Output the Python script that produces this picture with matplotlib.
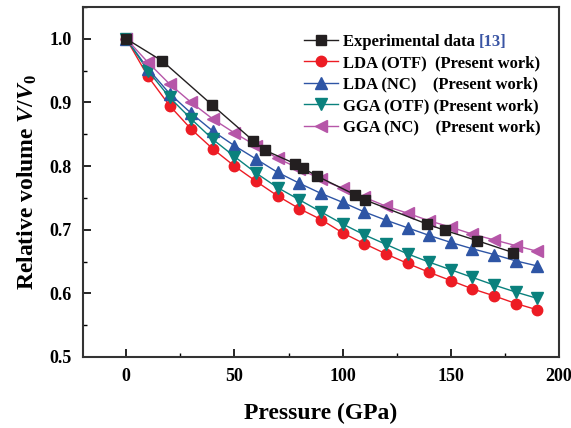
import matplotlib
matplotlib.use("Agg")
import matplotlib.pyplot as plt
from matplotlib.ticker import MultipleLocator

plt.rcParams['font.family'] = ['Liberation Serif', 'DejaVu Serif']
plt.rcParams['font.weight'] = 'bold'
plt.rcParams['mathtext.fontset'] = 'custom'
plt.rcParams['mathtext.rm'] = 'Liberation Serif:bold'
plt.rcParams['mathtext.it'] = 'Liberation Serif:bold:italic'
plt.rcParams['mathtext.bf'] = 'Liberation Serif:bold'

# Experimental data
exp_p = [0, 16.7, 39.7, 58.6, 64.0, 77.8, 81.5, 88.3, 105.7, 110.2, 138.9, 147.2, 162.0, 178.8]
exp_v = [1.0, 0.965, 0.896, 0.840, 0.825, 0.804, 0.797, 0.784, 0.755, 0.747, 0.709, 0.699, 0.683, 0.664]

# Calculated (present work)
calc_p = [0, 10, 20, 30, 40, 50, 60, 70, 80, 90, 100, 110, 120, 130, 140, 150, 160, 170, 180, 190]
lda_otf = [1.0, 0.941, 0.895, 0.858, 0.827, 0.800, 0.776, 0.753, 0.733, 0.716, 0.695, 0.678, 0.662,
           0.647, 0.633, 0.620, 0.607, 0.596, 0.584, 0.574]
lda_nc = [1.0, 0.953, 0.914, 0.883, 0.855, 0.832, 0.811, 0.790, 0.773, 0.757, 0.743, 0.728, 0.715,
          0.703, 0.691, 0.680, 0.670, 0.661, 0.651, 0.643]
gga_otf = [1.0, 0.950, 0.908, 0.874, 0.842, 0.815, 0.789, 0.766, 0.747, 0.728, 0.709, 0.692, 0.677,
           0.662, 0.649, 0.637, 0.625, 0.613, 0.602, 0.592]
gga_nc = [1.0, 0.963, 0.929, 0.900, 0.874, 0.852, 0.832, 0.812, 0.796, 0.779, 0.765, 0.751, 0.737,
          0.726, 0.714, 0.704, 0.693, 0.684, 0.675, 0.666]

labels = ["Experimental data",
          "LDA (OTF)  (Present work)",
          "LDA (NC)    (Present work)",
          "GGA (OTF) (Present work)",
          "GGA (NC)    (Present work)"]
ref_label = "[13]"

fig = plt.figure(figsize=(5.71, 4.28), dpi=100)
ax = fig.add_axes([0.1454, 0.166, 0.979 - 0.1454, 0.9836 - 0.166])

ax.plot(exp_p, exp_v, color='#231f20', lw=1.0, marker='s', ms=6.5, mfc='#231f20', mec='#231f20', label=labels[0], zorder=3)
ax.plot(calc_p, lda_otf, color='#ed1c24', lw=1.0, marker='o', ms=7.5, mfc='#ed1c24', mec='#ed1c24', label=labels[1])
ax.plot(calc_p, lda_nc, color='#2e55a5', lw=1.0, marker='^', ms=8.5, mfc='#2e55a5', mec='#2e55a5', label=labels[2])
ax.plot(calc_p, gga_otf, color='#0a817d', lw=1.0, marker='v', ms=8.5, mfc='#0a817d', mec='#0a817d', label=labels[3])
ax.plot(calc_p, gga_nc, color='#b656a8', lw=1.0, marker='<', ms=8.5, mfc='#b656a8', mec='#b656a8', label=labels[4])

ax.set_xlim(-20, 200)
ax.set_ylim(0.5, 1.05)
ax.xaxis.set_major_locator(MultipleLocator(50))
ax.xaxis.set_minor_locator(MultipleLocator(25))
ax.yaxis.set_minor_locator(MultipleLocator(0.05))
ax.set_yticks([0.5, 0.6, 0.7, 0.8, 0.9, 1.0])
ax.set_yticklabels(['0.5', '0.6', '0.7', '0.8', '0.9', '1.0'])
ax.tick_params(which='both', direction='in', top=False, right=False, labelsize=13, pad=8)
ax.tick_params(which='major', length=6, width=1.2)
ax.tick_params(which='minor', length=3, width=1.0)
for s in ax.spines.values():
    s.set_linewidth(1.5)
    s.set_color('#333333')

ax.set_xlabel('Pressure (GPa)', fontsize=17, fontweight='bold', labelpad=13)
ax.set_ylabel(r'Relative volume $V/V_0$', fontsize=17, fontweight='bold', labelpad=8)

leg = ax.legend(loc='upper right', bbox_to_anchor=(0.985, 0.957), frameon=False, fontsize=12,
                handlelength=2.0, handletextpad=0.3, labelspacing=0.33, borderaxespad=0.3)

fig.canvas.draw()
bb = leg.get_texts()[0].get_window_extent(renderer=fig.canvas.get_renderer())
fig.text(bb.x1 + 4, bb.y0, ref_label, transform=None, ha='left', va='bottom',
         fontsize=12, fontweight='bold', color='#3a55a4')

fig.savefig('out.png', dpi=100)
